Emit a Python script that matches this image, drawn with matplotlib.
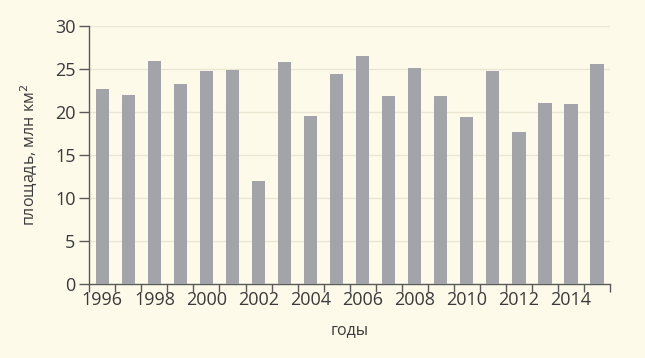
import matplotlib
matplotlib.use("Agg")
from matplotlib import pyplot as plt

plt.rcParams['font.family'] = ['Open Sans', 'DejaVu Sans']

# площадь (млн км2) по годам
years = list(range(1996, 2016))
area = [22.7, 22.0, 25.9, 23.2, 24.7, 24.9, 12.0, 25.8, 19.5, 24.4,
        26.5, 21.9, 25.1, 21.9, 19.4, 24.7, 17.7, 21.0, 20.9, 25.5]
tick_labels = [str(y) if y % 2 == 0 else '' for y in years]

bg = '#fdfaea'
text_color = '#3a3a3a'
axis_color = '#5a5a5a'

fig = plt.figure(figsize=(6.45, 3.58), dpi=100, facecolor=bg)
ax = fig.add_axes([89.3 / 645, 1 - 284.3 / 358, (610 - 89.3) / 645, (284.3 - 25.7) / 358])
ax.set_facecolor(bg)

pos = list(range(len(years)))
ax.bar(pos, area, width=0.51, color='#a3a4a9', zorder=3)

ax.set_xlim(-0.5, len(years) - 0.5)
ax.set_ylim(0, 30)
ax.set_yticks(range(0, 31, 5))
ax.yaxis.grid(True, color='#e9e6d2', linewidth=1, zorder=0)

# ticks between bars, labels under bars
ax.set_xticks([p - 0.5 for p in pos] + [len(years) - 0.5])
ax.set_xticklabels([])
ax.set_xticks(pos, minor=True)
ax.set_xticklabels(tick_labels, minor=True)
ax.tick_params(axis='x', which='minor', length=0, pad=5, labelsize=13, labelcolor=text_color)
ax.tick_params(axis='x', which='major', length=6, color=axis_color, width=1)
ax.tick_params(axis='y', length=7, color=axis_color, width=1, labelsize=13, labelcolor=text_color, pad=3)

for side in ['top', 'right']:
    ax.spines[side].set_visible(False)
for side in ['left', 'bottom']:
    ax.spines[side].set_color(axis_color)
    ax.spines[side].set_linewidth(1)

ax.set_xlabel('годы', fontsize=11.5, color=text_color, labelpad=9)
ax.set_ylabel('площадь, млн км$^2$', fontsize=11.5, color=text_color, labelpad=11)

fig.savefig('out.png', dpi=100, facecolor=bg)
